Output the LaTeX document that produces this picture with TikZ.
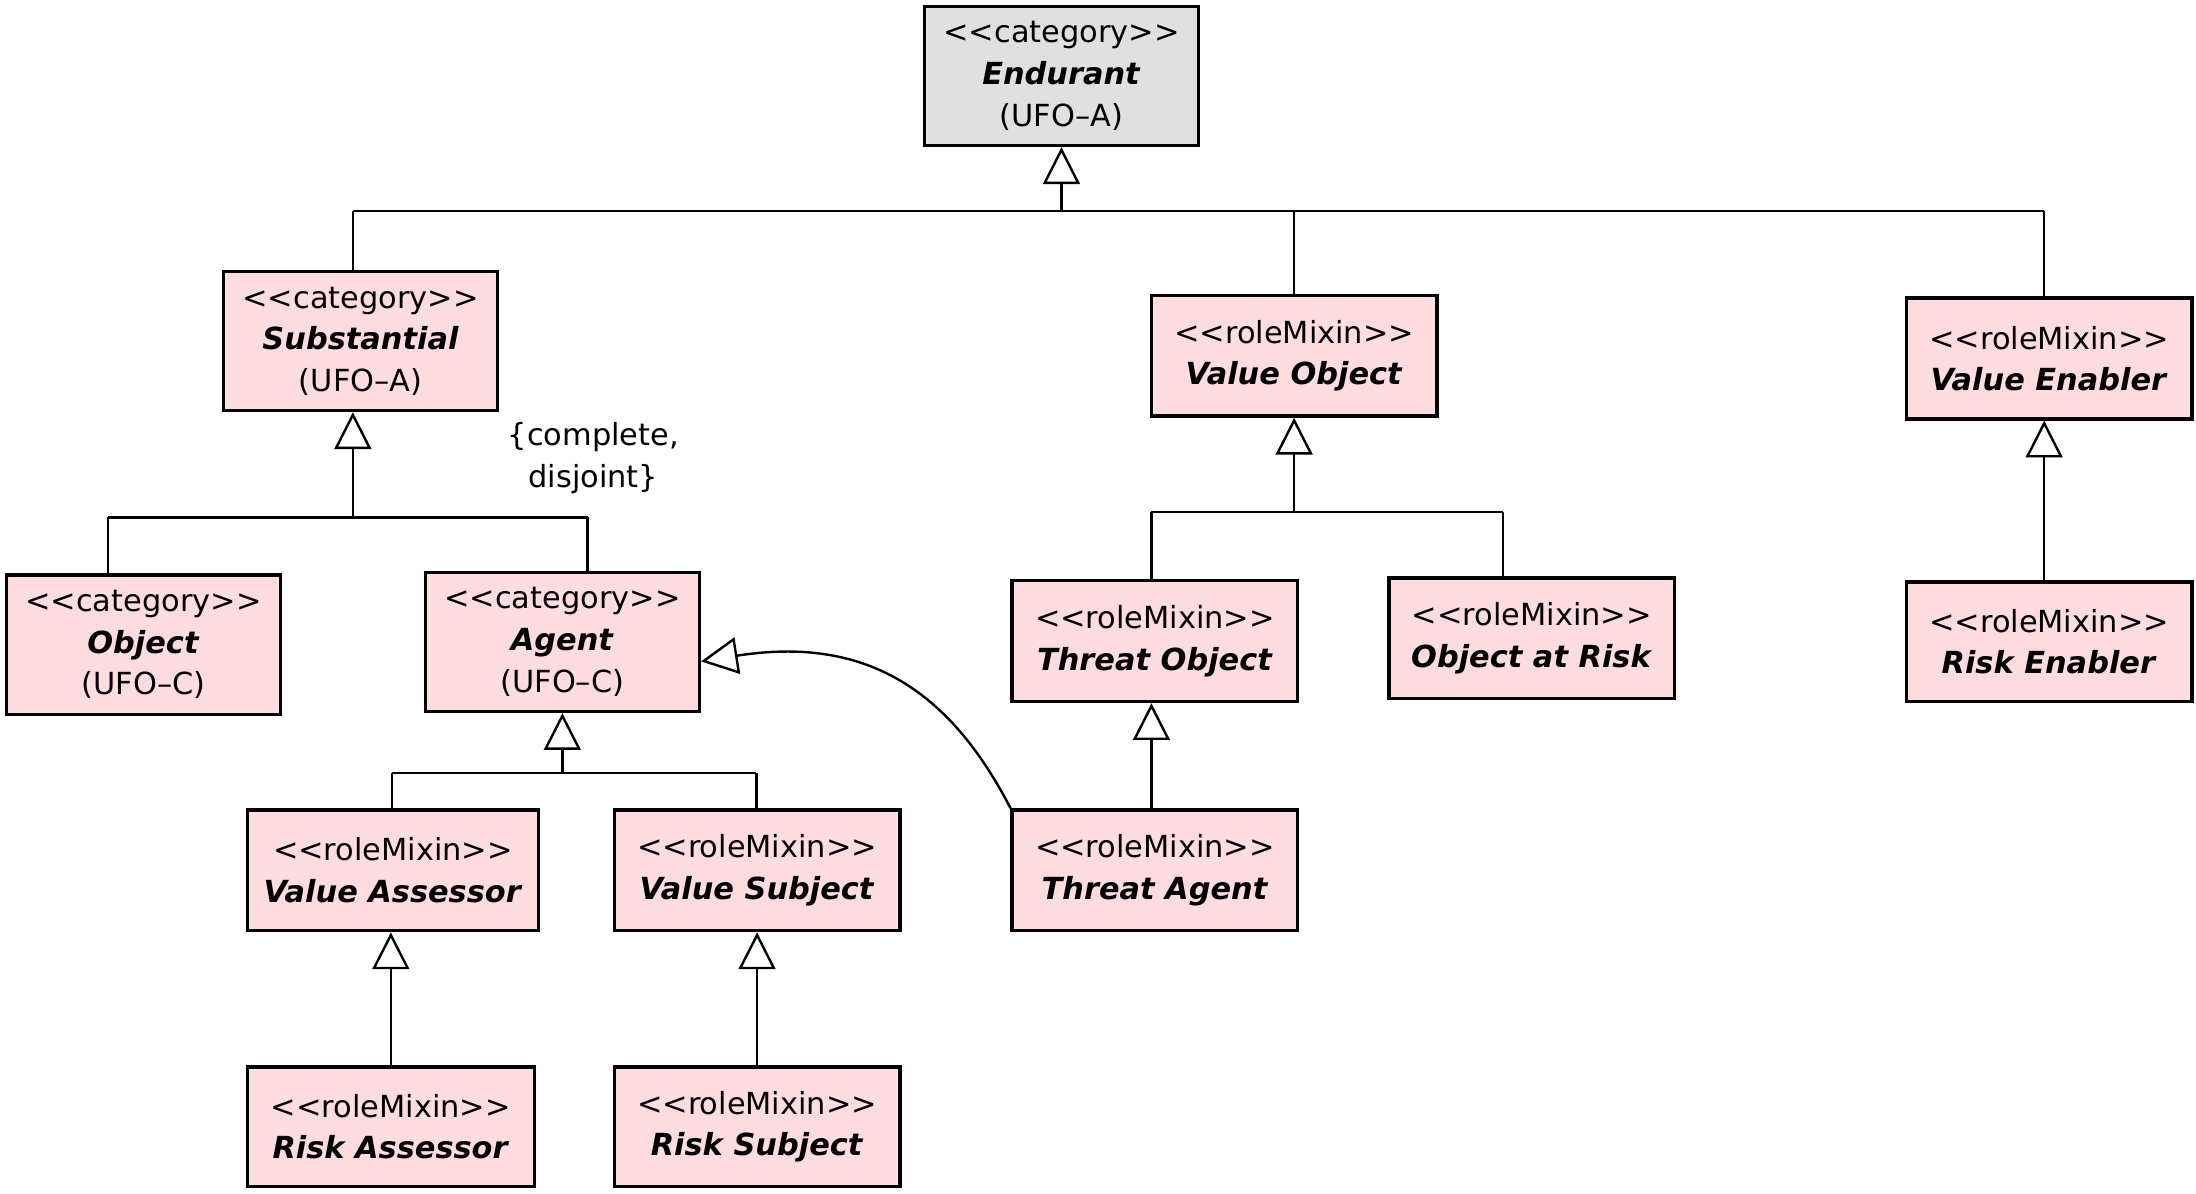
\documentclass[tikz,border=0pt]{standalone}
\usepackage{fontspec}
\setmainfont{DejaVu Sans}
\usetikzlibrary{arrows.meta}
\definecolor{classpink}{RGB}{255,220,224}
\definecolor{classgray}{RGB}{224,224,224}
\newcommand{\stereo}[1]{<{}<#1>{}>}
\newcommand{\cname}[1]{\textbf{\textit{#1}}}
\tikzset{
  umlclass/.style={draw, line width=0.85pt, fill=classpink, align=center, inner sep=0pt,
    minimum width=71.4pt, minimum height=30.2pt, font=\fontsize{7.6pt}{10.4pt}\selectfont},
  umlcat/.style={umlclass, minimum width=68.5pt, minimum height=34.8pt},
  line/.style={draw, line width=0.6pt},
  gen/.style={line, -{Triangle[open, length=9.2pt, width=9.2pt]}}
}
\begin{document}
\begin{tikzpicture}[x=0.3515pt, y=-0.3515pt]
\useasboundingbox (0,0) rectangle (1562,849);
	% classes
	\node[umlcat, fill=classgray] (endu) at (755,54) {\stereo{category}\\\cname{Endurant}\\(UFO–A)};
	\node[umlcat] (subs) at (256.5,242.5) {\stereo{category}\\\cname{Substantial}\\(UFO–A)};
	\node[umlclass] (vobj) at (920.5,253) {\stereo{roleMixin}\\\cname{Value Object}};
	\node[umlclass] (ven) at (1457.5,255) {\stereo{roleMixin}\\\cname{Value Enabler}};
	\node[umlcat] (obj) at (102,458.5) {\stereo{category}\\\cname{Object}\\(UFO–C)};
	\node[umlcat] (agent) at (400,456.5) {\stereo{category}\\\cname{Agent}\\(UFO–C)};
	\node[umlclass, minimum width=72.8pt] (vass) at (279.5,619) {\stereo{roleMixin}\\\cname{Value Assessor}};
	\node[umlclass] (vsub) at (538.5,619) {\stereo{roleMixin}\\\cname{Value Subject}};
	\node[umlclass, minimum width=71.7pt, minimum height=29.9pt] (rass) at (278,801.5) {\stereo{roleMixin}\\\cname{Risk Assessor}};
	\node[umlclass, minimum height=29.9pt] (rsub) at (538.5,801.5) {\stereo{roleMixin}\\\cname{Risk Subject}};
	\node[umlclass] (tobj) at (821.5,456) {\stereo{roleMixin}\\\cname{Threat Object}};
	\node[umlclass] (oar) at (1089.5,454) {\stereo{roleMixin}\\\cname{Object at Risk}};
	\node[umlclass] (tag) at (821.5,619) {\stereo{roleMixin}\\\cname{Threat Agent}};
	\node[umlclass, minimum height=29.9pt] (ren) at (1457.5,456.5) {\stereo{roleMixin}\\\cname{Risk Enabler}};
	\node[align=center, inner sep=0pt, font=\fontsize{7.6pt}{10.4pt}\selectfont] (cd) at (422,326) {\{complete,\\disjoint\}};
	% generalization sets
	\coordinate (topL) at (251,150);
	\coordinate (topJ) at (755,150);
	\coordinate (topR) at (1454,150);
		\draw[line] (topL) -- (topR);
		\draw[gen] (topJ) -- (endu.south);
		\draw[line] (topL) -- (subs.north -| topL);
		\draw[line] (vobj.north |- topL) -- (vobj.north);
		\draw[line] (topR) -- (ven.north -| topR);
	\coordinate (subL) at (77,368);
	\coordinate (subJ) at (251,368);
	\coordinate (subR) at (418,368);
		\draw[line] (subL) -- (subR);
		\draw[gen] (subJ) -- (subs.south -| subJ);
		\draw[line] (subL) -- (obj.north -| subL);
		\draw[line] (subR) -- (agent.north -| subR);
	\coordinate (agL) at (279,550);
	\coordinate (agR) at (538,550);
		\draw[line] (agL) -- (agR);
		\draw[gen] (agent.south |- agL) -- (agent.south);
		\draw[line] (agL) -- (vass.north -| agL);
		\draw[line] (agR) -- (vsub.north -| agR);
	\coordinate (voL) at (819,364);
	\coordinate (voR) at (1069,364);
		\draw[line] (voL) -- (voR);
		\draw[gen] (vobj.south |- voL) -- (vobj.south);
		\draw[line] (voL) -- (tobj.north -| voL);
		\draw[line] (voR) -- (oar.north -| voR);
	% single generalizations
		\draw[gen] (rass.north) -- (rass.north |- vass.south);
		\draw[gen] (rsub.north) -- (rsub.north |- vsub.south);
		\draw[gen] (tag.north -| voL) -- (tobj.south -| voL);
		\draw[gen] (ren.north -| topR) -- (ven.south -| topR);
		\draw[gen] (tag.north west) .. controls (675,490) and (615,452) .. ([yshift=-4.9pt]agent.east);
\end{tikzpicture}
\end{document}
